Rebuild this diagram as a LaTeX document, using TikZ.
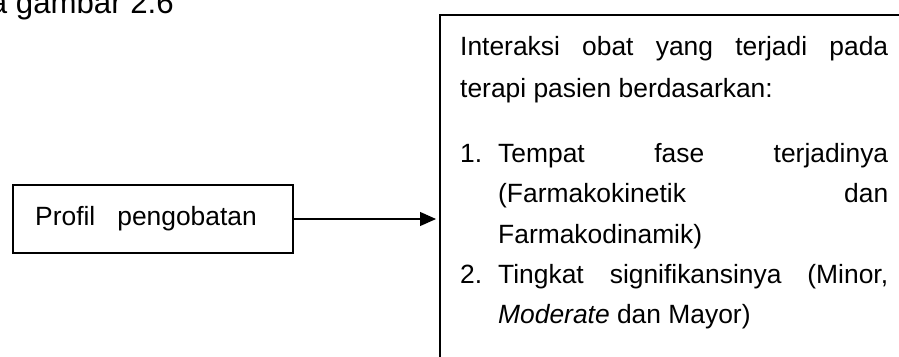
\documentclass[tikz,border=0pt]{standalone}
\usepackage{fontspec}
\setmainfont{Liberation Sans}
\usetikzlibrary{arrows.meta}
\begin{document}
\begin{tikzpicture}[x=1pt,y=-1pt,
  box/.style={draw, line width=2pt, inner sep=0pt},
  txt/.style={anchor=base west, inner sep=0pt, font=\fontsize{26.4}{30}\selectfont},
  conn/.style={line width=1.2pt, -{Triangle[length=16pt,width=14pt]}, shorten >=3pt}]
\useasboundingbox (0,0) rectangle (899,356);
\clip (0,0) rectangle (899,356);
% partly visible heading (cut by the top and left edges as in the reference)
\node[anchor=base east, inner sep=0pt, font=\fontsize{31.2}{34}\selectfont] (title) at (174,13) {pada gambar 2.6};
% left box
\node[box, minimum width=280pt, minimum height=68pt] (profil) at (153,219) {};
\node[txt] (ptext) at (35,225) {Profil\ \ \ pengobatan};
% right box (runs past the right and bottom edges)
\node[box, anchor=north west, minimum width=520pt, minimum height=400pt] (rbox) at (439,14) {};
\node[txt] (l1) at (460,55) {\makebox[428pt][s]{Interaksi obat yang terjadi pada}};
\node[txt] (l2) at (460,97) {terapi pasien berdasarkan:};
\node[txt] (n1) at (460,162) {1.};
\node[txt] (l3) at (498,162) {\makebox[390pt][s]{Tempat fase terjadinya}};
\node[txt] (l4) at (498,202) {\makebox[390pt][s]{(Farmakokinetik dan}};
\node[txt] (l5) at (498,243) {Farmakodinamik)};
\node[txt] (n2) at (460,283) {2.};
\node[txt] (l6) at (498,283) {\makebox[390pt][s]{Tingkat signifikansinya (Minor,}};
\node[txt] (l7) at (498,323) {\textit{Moderate} dan Mayor)};
% connector
\draw[conn] (profil.east) -- (rbox.west |- profil.east);
\end{tikzpicture}
\end{document}
